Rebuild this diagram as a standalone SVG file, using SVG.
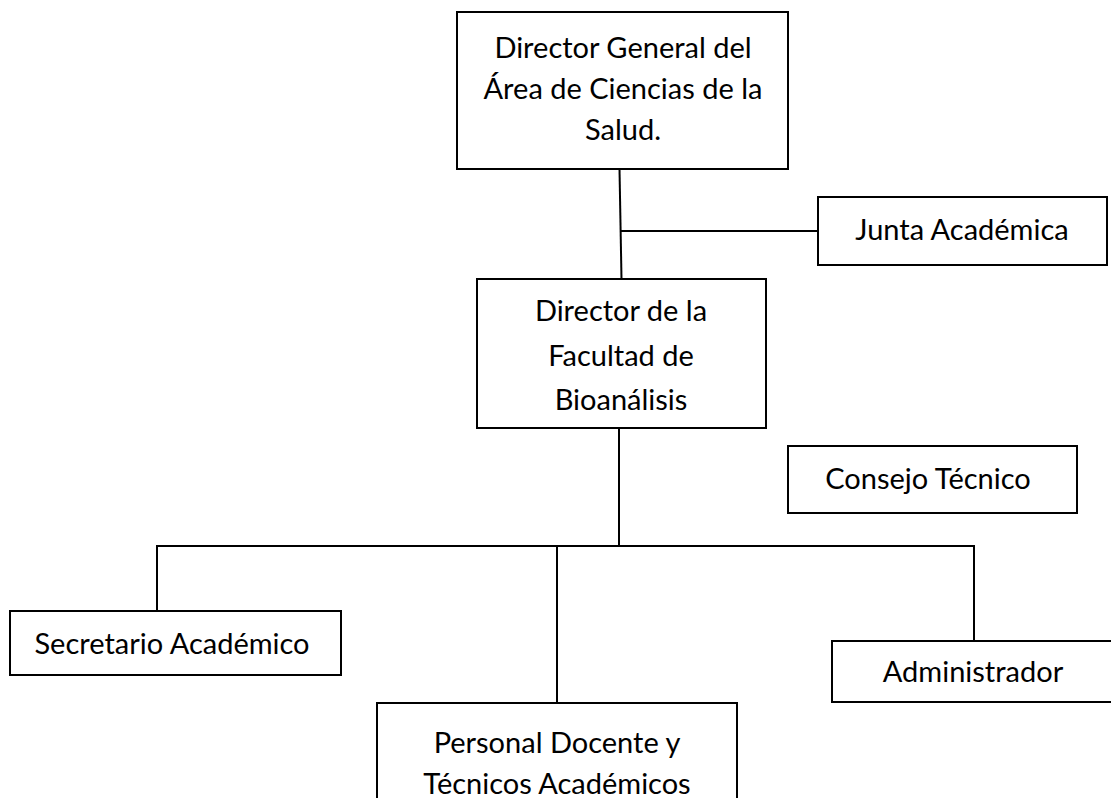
<svg xmlns="http://www.w3.org/2000/svg" width="1111" height="798" viewBox="0 0 1111 798">
<style>
.box{fill:#fff;stroke:#000;stroke-width:2}
.ln{fill:none;stroke:#000;stroke-width:2}
text{font-family:Lato,"Noto Sans",sans-serif;font-size:29px;fill:#000;text-anchor:middle}
</style>
<rect width="1111" height="798" fill="#fff"/>
<g id="connectors">
<line class="ln" x1="619.5" y1="169" x2="621.5" y2="279"/>
<line class="ln" x1="621" y1="231" x2="818" y2="231"/>
<line class="ln" x1="619" y1="428" x2="619" y2="546"/>
<line class="ln" x1="156" y1="546" x2="975" y2="546"/>
<line class="ln" x1="157" y1="545" x2="157" y2="611"/>
<line class="ln" x1="557" y1="545" x2="557" y2="703"/>
<line class="ln" x1="974" y1="545" x2="974" y2="641"/>
</g>
<g id="director-general">
<rect class="box" x="457" y="12" width="331" height="157"/>
<text x="623" y="58">Director General del</text>
<text x="623" y="99">Área de Ciencias de la</text>
<text x="623" y="140">Salud.</text>
</g>
<g id="junta-academica">
<rect class="box" x="818" y="197" width="289" height="68"/>
<text x="962" y="240">Junta Académica</text>
</g>
<g id="director-facultad">
<rect class="box" x="477" y="279" width="289" height="149"/>
<text x="621" y="321">Director de la</text>
<text x="621" y="366">Facultad de</text>
<text x="621" y="410">Bioanálisis</text>
</g>
<g id="consejo-tecnico">
<rect class="box" x="788" y="446" width="289" height="67"/>
<text x="928" y="489">Consejo Técnico</text>
</g>
<g id="secretario-academico">
<rect class="box" x="10" y="611" width="331" height="64"/>
<text x="172" y="654">Secretario Académico</text>
</g>
<g id="administrador">
<rect class="box" x="832" y="641" width="290" height="61"/>
<text x="973" y="682">Administrador</text>
</g>
<g id="personal-docente">
<rect class="box" x="377" y="703" width="360" height="110"/>
<text x="557" y="753">Personal Docente y</text>
<text x="557" y="794">Técnicos Académicos</text>
</g>
</svg>
